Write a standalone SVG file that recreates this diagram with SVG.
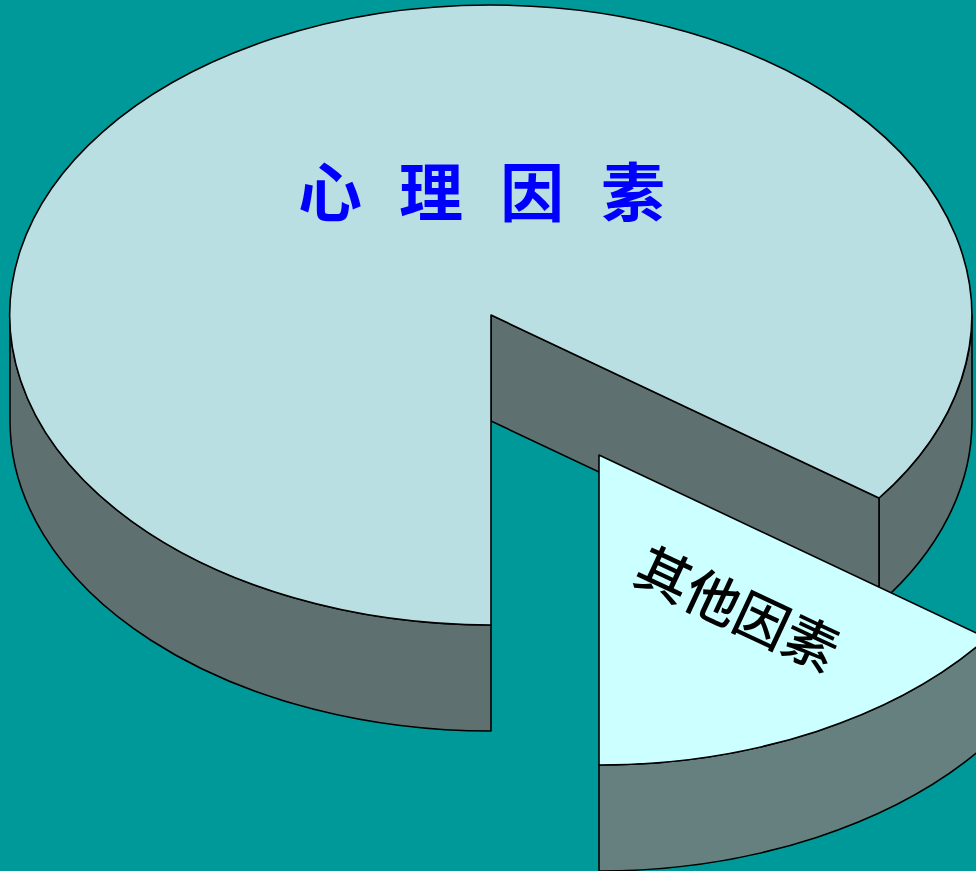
<svg xmlns="http://www.w3.org/2000/svg" width="976" height="871" viewBox="0 0 976 871">
<style>
.ol{stroke:#000;stroke-width:1.6;stroke-linejoin:round}
.side{fill:#5F7070}
.sside{fill:#668080}
.top{fill:#BADFE3}
.stop{fill:#CCFFFF}
.lbl1{font-family:"Noto Sans CJK SC",sans-serif;font-size:64px;font-weight:700;fill:#0000FF}
.lbl2{font-family:"Noto Sans CJK SC",sans-serif;font-size:54px;font-weight:500;fill:#000}
</style>
<rect width="976" height="871" fill="#009999"/>
<g id="main-slice">
<path class="ol side" d="M879,498 A481,310 0 0 0 972,315 L972,421 A481,310 0 0 1 879,604 Z"/>
<path class="ol side" d="M491,315 L879,498 L879,604 L491,421 Z"/>
<path class="ol side" d="M10,315 A481,310 0 0 0 491,625 L491,731 A481,310 0 0 1 10,421 Z"/>
<path class="ol top" d="M491,315 L491,625 A481,310 0 1 1 879,498 Z"/>
<text class="lbl1" x="298" y="216" letter-spacing="37">心理因素</text>
</g>
<g id="other-slice">
<path class="ol sside" d="M987,638 A481,310 0 0 1 599,765 L599,871 A481,310 0 0 0 987,744 Z"/>
<path class="ol stop" d="M599,455 L987,638 A481,310 0 0 1 599,765 Z"/>
<text class="lbl2" transform="translate(737,610) rotate(25)" x="0" y="19" text-anchor="middle">其他因素</text>
</g>
</svg>
